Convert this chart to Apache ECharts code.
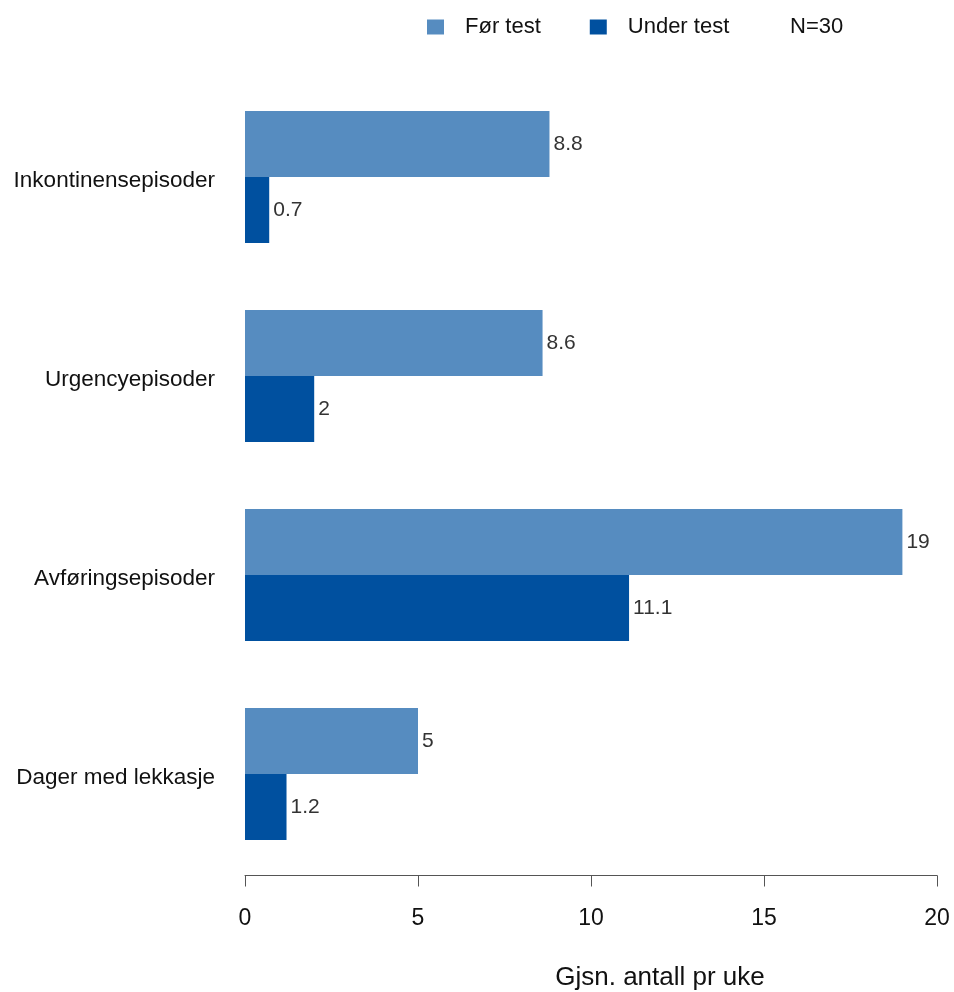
<!DOCTYPE html>
<html>
<head>
<meta charset="utf-8">
<script src="https://cdn.jsdelivr.net/npm/echarts@6/dist/echarts.min.js"></script>
<style>html,body{margin:0;padding:0;background:#fff}#c{width:954px;height:992px}</style>
</head>
<body>
<div id="c"></div>
<script>
const categories = ['Inkontinensepisoder', 'Urgencyepisoder', 'Avføringsepisoder', 'Dager med lekkasje'];
const forTest = [8.8, 8.6, 19, 5];
const underTest = [0.7, 2, 11.1, 1.2];
const seriesNames = ['Før test', 'Under test'];
const xTicks = [0, 5, 10, 15, 20];
const xTitle = 'Gjsn. antall pr uke';
const note = 'N=30';

const FONT = 'Liberation Sans, Arial, sans-serif';
const chart = echarts.init(document.getElementById('c'), null, {renderer: 'canvas'});
const labelCfg = {show: true, position: 'right', distance: 4, color: '#333', fontSize: 21, fontFamily: FONT,
  formatter: p => String(p.value)};
chart.setOption({
  animation: false,
  backgroundColor: '#fff',
  textStyle: {fontFamily: FONT},
  legend: {
    top: 16, left: 427, padding: 0,
    itemWidth: 17, itemHeight: 15, itemGap: 49,
    icon: 'rect',
    textStyle: {fontSize: 22, color: '#111', fontFamily: FONT, padding: [0, 0, 0, 16]},
    data: seriesNames
  },
  graphic: [
    {type: 'text', x: 790, y: 27, style: {text: note, fontSize: 22, fill: '#111', fontFamily: FONT, verticalAlign: 'middle'}},
    {type: 'text', x: 660, y: 978, style: {text: xTitle, fontSize: 26, fill: '#111', fontFamily: FONT, align: 'center', verticalAlign: 'middle'}}
  ],
  grid: {left: 245, top: 77.5, width: 692, height: 796, containLabel: false},
  xAxis: {
    type: 'value', min: xTicks[0], max: xTicks[xTicks.length - 1], interval: 5,
    offset: 2,
    axisLine: {show: true, lineStyle: {color: '#555', width: 1}},
    axisTick: {show: true, length: 11, lineStyle: {color: '#555'}},
    axisLabel: {fontSize: 23, color: '#111', margin: 32, fontFamily: FONT},
    splitLine: {show: false}
  },
  yAxis: {
    type: 'category', data: categories, inverse: true,
    axisLine: {show: false}, axisTick: {show: false},
    axisLabel: {fontSize: 22.5, color: '#111', margin: 30, fontFamily: FONT, verticalAlign: 'top', lineHeight: 8}
  },
  series: [
    {name: seriesNames[0], type: 'bar', data: forTest, barGap: '0%', barCategoryGap: '33.7%',
      itemStyle: {color: '#568CC0'}, label: labelCfg},
    {name: seriesNames[1], type: 'bar', data: underTest, barGap: '0%', barCategoryGap: '33.7%',
      itemStyle: {color: '#00509F'}, label: labelCfg}
  ]
});
</script>
</body>
</html>
